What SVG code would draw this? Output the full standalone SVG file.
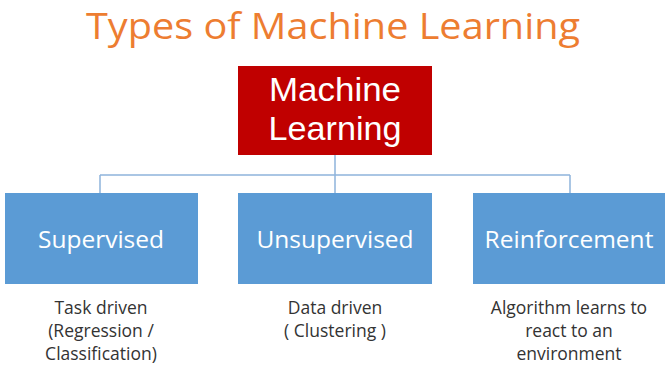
<svg xmlns="http://www.w3.org/2000/svg" width="665" height="369" viewBox="0 0 665 369">
<style>
.t{font-family:"Open Sans","Liberation Sans",sans-serif;text-anchor:middle}
.title{fill:#ED7D31;font-size:36px}
.root{fill:#C00000}
.box{fill:#5B9BD5}
.wl{fill:#ffffff;font-size:33px;font-family:"Liberation Sans","Open Sans",sans-serif}
.wb{fill:#ffffff;font-size:24.5px}
.sub{fill:#333333;font-size:17.5px}
.ln{stroke:#8FB4DC;stroke-width:1.5;fill:none}
</style>
<rect width="665" height="369" fill="#ffffff"/>
<text class="t title" x="333" y="39" textLength="494" lengthAdjust="spacingAndGlyphs">Types of Machine Learning</text>
<g id="connectors">
<path class="ln" d="M335 155V175M100 175H570M100 175V193M335 175V193M570 175V193"/>
</g>
<g id="machine-learning">
<rect class="root" x="238" y="66" width="194" height="89"/>
<text class="t wl" x="335" y="101" textLength="132" lengthAdjust="spacingAndGlyphs">Machine</text>
<text class="t wl" x="335" y="140" textLength="133" lengthAdjust="spacingAndGlyphs">Learning</text>
</g>
<g id="supervised">
<rect class="box" x="5" y="193" width="193" height="91"/>
<text class="t wb" x="101" y="248">Supervised</text>
<text class="t sub" x="101" y="314">Task driven</text>
<text class="t sub" x="101" y="337">(Regression /</text>
<text class="t sub" x="101" y="360">Classification)</text>
</g>
<g id="unsupervised">
<rect class="box" x="238" y="193" width="194" height="91"/>
<text class="t wb" x="335" y="248">Unsupervised</text>
<text class="t sub" x="335" y="314">Data driven</text>
<text class="t sub" x="335" y="337">( Clustering )</text>
</g>
<g id="reinforcement">
<rect class="box" x="473" y="193" width="192" height="91"/>
<text class="t wb" x="569" y="248">Reinforcement</text>
<text class="t sub" x="569" y="314">Algorithm learns to</text>
<text class="t sub" x="569" y="337">react to an</text>
<text class="t sub" x="569" y="360">environment</text>
</g>
</svg>
